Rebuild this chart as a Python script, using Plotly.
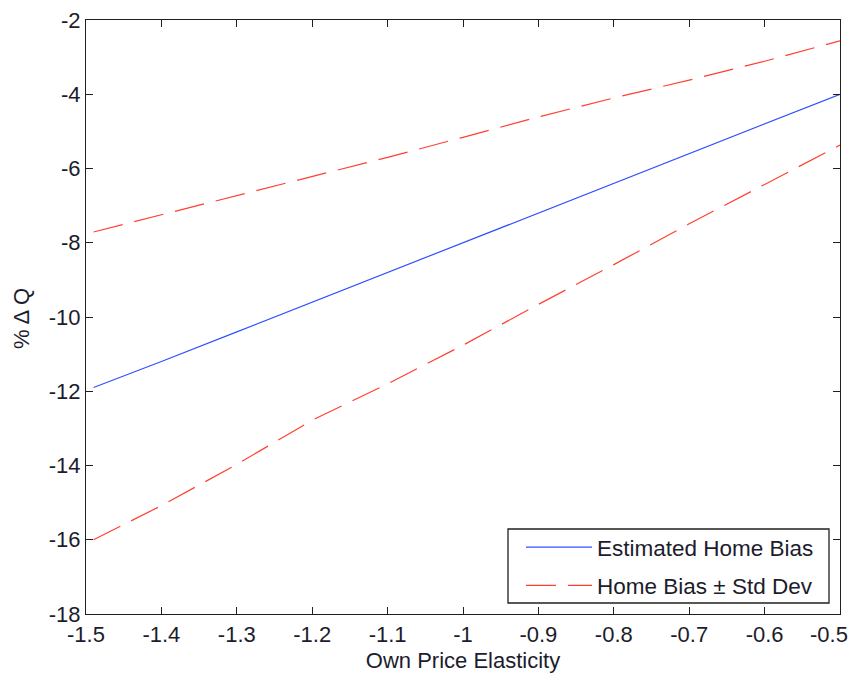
import plotly.graph_objects as go

elasticity = [-1.49, -1.4, -1.3, -1.2, -1.1, -1.0, -0.9, -0.8, -0.7, -0.6, -0.5]
estimated = [-11.9, -11.2, -10.4, -9.6, -8.8, -8.0, -7.2, -6.4, -5.6, -4.8, -4.0]
upper = [-7.71, -7.25, -6.72, -6.21, -5.70, -5.16, -4.61, -4.10, -3.62, -3.11, -2.56]
lower = [-16.0, -15.08, -13.97, -12.78, -11.8, -10.76, -9.66, -8.59, -7.49, -6.42, -5.37]

x_ticks = [-1.5, -1.4, -1.3, -1.2, -1.1, -1.0, -0.9, -0.8, -0.7, -0.6, -0.5]
x_labels = ["-1.5", "-1.4", "-1.3", "-1.2", "-1.1", "-1", "-0.9", "-0.8", "-0.7", "-0.6", "-0.5"]
y_ticks = [-18, -16, -14, -12, -10, -8, -6, -4, -2]
y_labels = ["-18", "-16", "-14", "-12", "-10", "-8", "-6", "-4", "-2"]

BLUE = "#3050ff"
RED = "#ff4030"
TXT = "#1c1c2c"
FONT = "Liberation Sans, Arial, sans-serif"

OFF = 8  # page body margin
W, H = 857 - OFF, 673 - OFF
L, R, T, B = 86 - OFF, 17, 20 - OFF, 59
PW, PH = W - L - R, H - T - B

def px_x(p):
    # page pixel -> paper fraction
    return (p - OFF - L) / PW

def px_y(p):
    return (H - B - (p - OFF)) / PH

fig = go.Figure()
fig.add_trace(go.Scatter(x=elasticity, y=estimated, mode="lines", name="Estimated Home Bias",
                         line=dict(color=BLUE, width=1.2), legendgroup="a"))
fig.add_trace(go.Scatter(x=elasticity, y=upper, mode="lines", name="Home Bias ± Std Dev",
                         line=dict(color=RED, width=1.2, dash="30px,12px"), legendgroup="b"))
fig.add_trace(go.Scatter(x=elasticity, y=lower, mode="lines", name="Home Bias ± Std Dev",
                         line=dict(color=RED, width=1.2, dash="30px,12px"), legendgroup="b",
                         showlegend=False))

axis_common = dict(showgrid=False, zeroline=False, showline=True, linecolor="#202020", linewidth=1.3,
                   mirror="ticks", ticks="inside", ticklen=7, tickwidth=1.3, tickcolor="#202020",
                   automargin=False, ticklabeloverflow="allow",
                   tickfont=dict(family=FONT, size=22, color=TXT))

# last x tick label is drawn as an annotation nudged left so it stays inside the window
shown_x_labels = x_labels[:-1] + [""]
fig.add_annotation(text=x_labels[-1], xref="x", yref="paper", x=x_ticks[-1], y=px_y(634),
                   xanchor="center", yanchor="middle", xshift=-11, showarrow=False,
                   font=dict(family=FONT, size=22, color=TXT))

# legend frame (box), drawn as a shape in paper coordinates
fig.add_shape(type="rect", xref="paper", yref="paper",
              x0=px_x(508), x1=px_x(829), y0=px_y(603), y1=px_y(529),
              line=dict(color="#202020", width=1.3), fillcolor="white", layer="above")

# y-axis title as an annotation (placed further left than plotly allows for axis titles)
fig.add_annotation(text="% Δ Q", xref="paper", yref="paper", x=px_x(21), y=px_y(319),
                   xanchor="center", yanchor="middle", textangle=-90, showarrow=False,
                   font=dict(family=FONT, size=22, color=TXT))

fig.update_layout(
    width=W, height=H,
    margin=dict(l=L, r=R, t=T, b=B),
    paper_bgcolor="white", plot_bgcolor="white",
    font=dict(family=FONT, size=22, color=TXT),
    xaxis=dict(range=[-1.5, -0.5], tickmode="array", tickvals=x_ticks, ticktext=shown_x_labels,
               title=dict(text="Own Price Elasticity", font=dict(family=FONT, size=22, color=TXT), standoff=7),
               **axis_common),
    yaxis=dict(range=[-18, -2], tickmode="array", tickvals=y_ticks, ticktext=y_labels,
               **axis_common),
    legend=dict(x=px_x(521), y=px_y(526), xanchor="left", yanchor="top",
                bgcolor="rgba(0,0,0,0)", borderwidth=0,
                font=dict(family=FONT, size=22.5, color=TXT),
                itemwidth=66, tracegroupgap=6, traceorder="grouped"),
    showlegend=True,
)

fig.write_html("out.html")
